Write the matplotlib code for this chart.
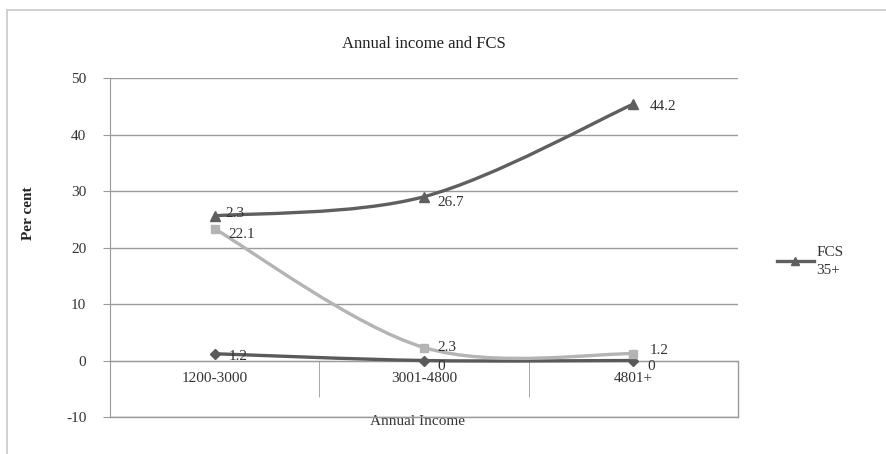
import numpy as np
import matplotlib
matplotlib.use("Agg")
import matplotlib.pyplot as plt
from matplotlib.path import Path
from matplotlib.patches import PathPatch, Rectangle
from matplotlib.lines import Line2D

plt.rcParams["font.family"] = ["Liberation Serif", "DejaVu Serif"]
plt.rcParams["axes.unicode_minus"] = False

categories = ["1200-3000", "3001-4800", "4801+"]
# stacked line chart: each series sits on the one before
low = [1.2, 0, 0]        # diamonds, dark
mid = [22.1, 2.3, 1.2]   # squares, light grey
fcs35 = [2.3, 26.7, 44.2]  # triangles, dark (legend "FCS 35+")

series = [
    (low, "#5a5a5a", "D", 5),
    (mid, "#b4b4b4", "s", 6),
    (fcs35, "#5f5f5f", "^", 7),
]


def smooth_path(xs, ys):
    # Excel-like smoothed line as cubic Bezier segments
    pts = np.column_stack([xs, ys]).astype(float)
    n = len(pts)
    verts = [pts[0]]
    codes = [Path.MOVETO]
    for i in range(n - 1):
        p_prev = pts[i - 1] if i > 0 else pts[i]
        p_next2 = pts[i + 2] if i + 2 < n else pts[i + 1]
        c1 = pts[i] + (pts[i + 1] - p_prev) / 6
        c2 = pts[i + 1] - (p_next2 - pts[i]) / 6
        verts += [c1, c2, pts[i + 1]]
        codes += [Path.CURVE4] * 3
    return Path(verts, codes)


fig = plt.figure(figsize=(8.87, 4.54), dpi=100)
fig.patches.append(Rectangle((0.008, -0.1), 1.1, 1.078, transform=fig.transFigure,
                             fill=False, edgecolor="#c8c8c8", linewidth=1.2))
ax = fig.add_axes([0.124, 0.0815, 0.708, 0.7465])

x = np.arange(len(categories))
base = np.zeros(len(categories))
label_offsets = [
    [(10, -2), (10, -4), (10, -4)],
    [(10, -4), (10, 0), (12, 2)],
    [(8, 2), (10, -4), (12, -2)],
]
for (vals, color, marker, ms), offs in zip(series, label_offsets):
    cum = base + np.array(vals)
    ax.add_patch(PathPatch(smooth_path(x, cum), fill=False, edgecolor=color,
                           linewidth=2.4, zorder=3))
    ax.plot(x, cum, linestyle="none", marker=marker, markersize=ms,
            color=color, zorder=4)
    for xi, yi, v, off in zip(x, cum, vals, offs):
        ax.annotate(f"{v:g}", (xi, yi), xytext=off, textcoords="offset points",
                    fontsize=11, color="#333333", va="center", ha="left", zorder=5)
    base = cum

ax.set_xlim(-0.5, len(categories) - 0.5)
ax.set_ylim(-10, 50)
ax.set_yticks(range(-10, 51, 10))
ax.yaxis.grid(True, color="#9a9a9a", linewidth=1)
ax.axhline(-10, color="#9a9a9a", linewidth=1, clip_on=False, zorder=1)
ax.set_axisbelow(True)

for s in ["top", "right"]:
    ax.spines[s].set_visible(False)
ax.spines["left"].set_color("#9a9a9a")
ax.spines["bottom"].set_position(("data", 0))
ax.spines["bottom"].set_color("#9a9a9a")
ax.plot([len(categories) - 0.5] * 2, [-10, 0], color="#9a9a9a", linewidth=1,
        clip_on=False)

ax.set_xticks(x)
ax.set_xticklabels(categories, fontsize=11, color="#333333")
ax.set_xticks(np.arange(-0.5, len(categories)), minor=True)
ax.tick_params(axis="x", which="major", length=0, pad=8)
ax.tick_params(axis="x", which="minor", length=26, color="#9a9a9a", direction="out")
ax.tick_params(axis="y", labelsize=11, labelcolor="#333333", color="#9a9a9a",
               length=5, pad=12)

ax.set_xlabel("Annual Income", fontsize=11, color="#333333")
ax.xaxis.set_label_coords(0.49, 0.005)
ax.set_ylabel("Per cent", fontsize=11, fontweight="bold", color="#222222")
ax.yaxis.set_label_coords(-0.12, 0.6)
ax.set_title("Annual income and FCS", fontsize=12, color="#222222", pad=22)

handle = Line2D([], [], color="#5f5f5f", linewidth=2.4, marker="^", markersize=6)
leg = ax.legend([handle], ["FCS\n35+"], loc="center left", bbox_to_anchor=(1.04, 0.46),
                frameon=False, fontsize=11, handlelength=2.4, handletextpad=0.2)
for t in leg.get_texts():
    t.set_linespacing(1.5)
    t.set_color("#333333")

fig.savefig("out.png", dpi=100, facecolor="white")
